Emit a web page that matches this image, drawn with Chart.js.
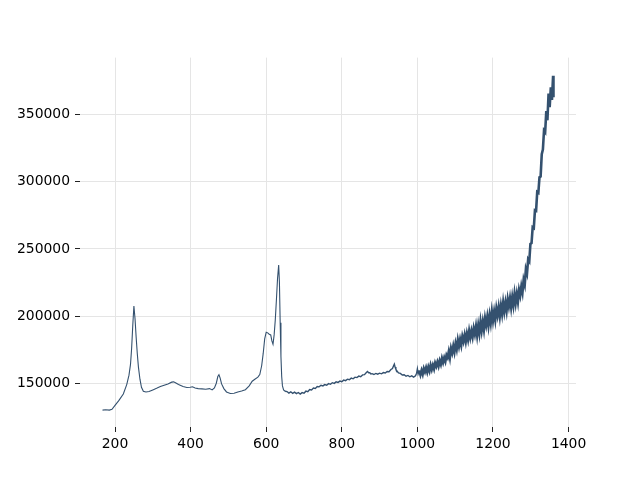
<!DOCTYPE html>
<html>
<head>
<meta charset="utf-8">
<script src="https://cdn.jsdelivr.net/npm/chart.js@4"></script>
<style>
  html, body { margin: 0; padding: 0; background: #fff; }
  canvas { display: block; }
</style>
</head>
<body>
<canvas id="spectrum" width="640" height="480"></canvas>
<script>
// spectrum (low end, peaks, then the noisy tail)
var shift = [
  167, 175, 185, 192, 200, 210, 222, 231, 237, 241,
  244, 247, 250, 253, 256, 259, 262, 266, 270, 275,
  282, 290, 300, 310, 320, 330, 340, 350, 355, 360,
  368, 380, 390, 399, 405, 412, 420, 430, 440, 450,
  457, 463, 468, 472, 475, 478, 482, 488, 495, 505,
  515, 525, 535, 545, 555, 563, 570, 578, 583, 588,
  592, 596, 600, 604, 608, 612, 615, 618, 621, 624,
  627, 630, 633, 635, 637, 639, 641, 643, 646,
  650, 655, 660, 665, 670, 675, 680, 685, 690, 695,
  700, 705, 710, 715, 720, 725, 730, 735, 740, 745,
  750, 755, 760, 765, 770, 775, 780, 785, 790, 795,
  800, 805, 810, 815, 820, 825, 830, 835, 840, 845,
  850, 855, 860, 865, 868, 871, 874, 877, 880, 885,
  890, 895, 900, 905, 910, 915, 920, 925, 930, 934,
  937, 939, 941, 943, 946, 950, 955, 960, 965, 970,
  975, 980, 985, 990, 995, 998, 1000, 1002,
  1005, 1008, 1011, 1014, 1017, 1020, 1023, 1026, 1029, 1032,
  1035, 1038, 1041, 1044, 1047, 1050, 1053, 1056, 1059, 1062,
  1065, 1068, 1071, 1074, 1077, 1080, 1083, 1086, 1089, 1092,
  1095, 1098, 1101, 1104, 1107, 1110, 1113, 1116, 1119, 1122,
  1125, 1128, 1131, 1134, 1137, 1140, 1143, 1146, 1149, 1152,
  1155, 1158, 1161, 1164, 1167, 1170, 1173, 1176, 1179, 1182,
  1185, 1188, 1191, 1194, 1197, 1200, 1203, 1206, 1209, 1212,
  1215, 1218, 1221, 1224, 1227, 1230, 1233, 1236, 1239, 1242,
  1245, 1248, 1251, 1254, 1257, 1260, 1263, 1266, 1269, 1272,
  1275, 1278, 1281, 1284, 1287, 1290, 1293, 1296, 1299, 1302,
  1305, 1308, 1311, 1314, 1317, 1320, 1323, 1326, 1329, 1332,
  1335, 1338, 1341, 1344, 1347, 1350, 1353, 1356, 1359, 1360
];

var intensity = [
  130000, 130200, 130000, 130600, 133500, 137000, 142000, 149000, 156000, 164000,
  176000, 193000, 207500, 198000, 184000, 172000, 162000, 153000, 147000, 144000,
  143500, 143800, 145000, 146200, 147500, 148500, 149500, 150800, 151000, 150300,
  149000, 147500, 146800, 147000, 147400, 146500, 146000, 145800, 145500, 146000,
  145000, 146500, 150000, 155000, 156300, 154000, 149500, 146000, 143500, 142300,
  142500, 143500, 144200, 145200, 148000, 151500, 153000, 154500, 156500, 163000,
  172000, 183000, 188000, 187500, 186500, 186000, 181500, 179000, 186000, 197000,
  212000, 228000, 238000, 225000, 195000, 170000, 155000, 148000, 145000,
  144000, 143800, 142700, 143600, 142500, 143400, 142300, 143100, 141900, 143000,
  142600, 144100, 143700, 145300, 145000, 146400, 146100, 147500, 147300, 148500,
  148000, 149000, 148500, 149700, 149200, 150400, 149900, 151000, 150600, 151600,
  151100, 152300, 151900, 153000, 152600, 153800, 153300, 154500, 154200, 155300,
  154900, 156200, 156400, 158000, 158700, 157800, 157800, 156900, 157100, 156500,
  157300, 156700, 157500, 157000, 157900, 157600, 158700, 158600, 160200, 161000,
  163000, 164200, 162000, 160400, 159100, 157700, 157300, 156100, 156300, 155200,
  155800, 154800, 155500, 154600, 155500, 157500, 160700, 157000,
  159500, 156300, 159500, 156700, 160900, 158500, 161500, 158300, 162000, 159200,
  163400, 160200, 163400, 160700, 165000, 162700, 165800, 162800, 166700, 164100,
  168500, 165500, 168900, 166300, 170900, 169100, 173500, 169100, 175900, 172700,
  177600, 173300, 179400, 175500, 182100, 177600, 182500, 178400, 184800, 181300,
  185900, 181100, 186800, 182600, 188900, 184100, 188800, 184500, 190700, 186600,
  192300, 185700, 193000, 187400, 195700, 189300, 195600, 190000, 198300, 193500,
  199400, 193000, 200500, 194900, 203200, 196800, 203100, 197300, 205600, 200700,
  206600, 200000, 207500, 201800, 210000, 203500, 209800, 204100, 212400, 207400,
  213200, 206600, 214000, 208200, 216400, 209800, 216300, 210800, 219300, 215400,
  222000, 217600, 226800, 223400, 234800, 231800, 242200, 240800, 253800, 254400,
  266200, 265600, 278800, 278400, 292400, 291800, 303400, 304000, 320600, 324000,
  338200, 337000, 352600, 345800, 365800, 355600, 370400, 361000, 379000, 363000
];

var xTicks = [200, 400, 600, 800, 1000, 1200, 1400];
var yTicks = [150000, 200000, 250000, 300000, 350000];

var points = shift.map(function (x, i) {
  return { x: x, y: intensity[i] };
});

var tickFont = { family: "DejaVu Sans", size: 13.9 };

// noisier part of the trace gets drawn a bit heavier
function segWidth(ctx) {
  var x = ctx.p0.parsed.x;
  if (x >= 1003) return 2.6;
  if (x >= 648) return 1.4;
  return 1.1;
}

var config = {
  type: "line",
  data: {
    datasets: [
      {
        data: points,
        borderColor: "#34516f",
        borderWidth: 1.1,
        pointRadius: 0,
        tension: 0,
        fill: false,
        segment: {
          borderWidth: segWidth,
        },
      },
    ],
  },
  options: {
    responsive: false,
    animation: false,
    layout: {
      padding: { top: 57.6, right: 64, left: 0, bottom: 0 },
    },
    plugins: {
      legend: { display: false },
      tooltip: { enabled: false },
    },
    scales: {
      x: {
        type: "linear",
        min: 107.4,
        max: 1419.6,
        afterBuildTicks: function (scale) {
          scale.ticks = xTicks.map(function (v) { return { value: v }; });
        },
        afterFit: function (scale) {
          scale.height = 53;
        },
        border: { display: false },
        grid: {
          color: "#e5e5e5",
          lineWidth: 1,
          drawTicks: true,
          tickLength: 5,
          tickColor: "#222",
          tickWidth: 1,
        },
        ticks: {
          color: "#000",
          font: tickFont,
          padding: 4,
          maxRotation: 0,
          callback: function (v) { return String(v); },
        },
      },
      y: {
        type: "linear",
        min: 117400,
        max: 392500,
        afterBuildTicks: function (scale) {
          scale.ticks = yTicks.map(function (v) { return { value: v }; });
        },
        afterFit: function (scale) {
          scale.width = 80;
        },
        border: { display: false },
        grid: {
          color: "#e5e5e5",
          lineWidth: 1,
          drawTicks: true,
          tickLength: 5,
          tickColor: "#222",
          tickWidth: 1,
        },
        ticks: {
          color: "#000",
          font: tickFont,
          padding: 5,
          callback: function (v) { return String(v); },
        },
      },
    },
  },
};

var spectrum_chart = new Chart(document.getElementById("spectrum").getContext("2d"), config);
</script>
</body>
</html>
